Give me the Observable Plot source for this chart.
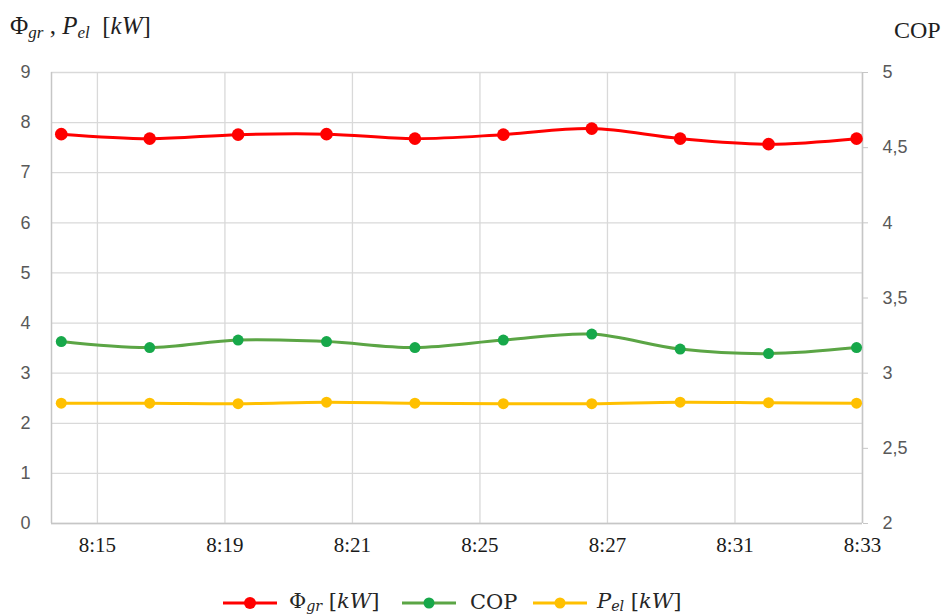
<!DOCTYPE html>
<html><head><meta charset="utf-8">
<script src="https://cdn.jsdelivr.net/npm/d3@7"></script>
<script src="https://cdn.jsdelivr.net/npm/@observablehq/plot@0.6"></script>
<style>
body{margin:0;background:#fff;}
#wrap{position:relative;width:947px;height:615px;overflow:hidden;background:#fff;}
#chart{position:absolute;left:0;top:0;}
.t{position:absolute;font-family:"Liberation Serif",serif;color:#1f1f1f;white-space:nowrap;line-height:1;}
.lg{font-family:"DejaVu Serif",serif;color:#262626;}
.t i{font-style:italic;}
.t sub{font-size:0.68em;font-style:italic;vertical-align:-0.22em;line-height:1;}
.sw{position:absolute;}
</style>
</head><body>
<div id="wrap">
  <div id="chart"></div>
  <div class="t" style="left:10px;top:13px;font-size:25px;">Φ<sub>gr</sub> , <i>P</i><sub>el</sub>&nbsp; [<i>kW</i>]</div>
  <div class="t" style="left:894px;top:18px;font-size:24px;">COP</div>
  <svg class="sw" style="left:223px;top:596px" width="54" height="14"><line x1="0" y1="7" x2="54" y2="7" stroke="#ff0000" stroke-width="3"/><circle cx="27" cy="7" r="6" fill="#ff0000"/></svg>
  <div class="t lg" style="left:289px;top:591px;font-size:21px;">Φ<sub>gr</sub> [<i>kW</i>]</div>
  <svg class="sw" style="left:402px;top:596px" width="54" height="14"><line x1="0" y1="7" x2="54" y2="7" stroke="#5ba545" stroke-width="3"/><circle cx="27" cy="7" r="5.5" fill="#17a84a"/></svg>
  <div class="t lg" style="left:470px;top:592px;font-size:21px;">COP</div>
  <svg class="sw" style="left:533px;top:596px" width="54" height="14"><line x1="0" y1="7" x2="54" y2="7" stroke="#ffc000" stroke-width="3"/><circle cx="27" cy="7" r="5.5" fill="#ffc000"/></svg>
  <div class="t lg" style="left:597px;top:591px;font-size:21px;"><i>P</i><sub>el</sub> [<i>kW</i>]</div>
</div>
<script>
// time of each reading, minutes after 8:00
const times = [14.15, 16.23, 18.31, 20.39, 22.47, 24.55, 26.63, 28.71, 30.79, 32.86];
const phiGr = [7.77, 7.68, 7.76, 7.77, 7.68, 7.76, 7.88, 7.68, 7.57, 7.68];
const cop   = [3.21, 3.17, 3.22, 3.21, 3.17, 3.22, 3.26, 3.16, 3.13, 3.17];
const pEl   = [2.40, 2.40, 2.39, 2.42, 2.40, 2.39, 2.39, 2.42, 2.41, 2.40];
const xTickValues = [15, 18, 21, 24, 27, 30, 33];
const xTickLabels = ["8:15", "8:19", "8:21", "8:25", "8:27", "8:31", "8:33"];
const yLeftTicks = [0, 1, 2, 3, 4, 5, 6, 7, 8, 9];
const copTicks = [2, 2.5, 3, 3.5, 4, 4.5, 5];
const xDomain = [13.92, 33];
const leftDomain = [0, 9];
const copDomain = [2, 5];

const toLeft = c => (c - copDomain[0]) / (copDomain[1] - copDomain[0]) * (leftDomain[1] - leftDomain[0]) + leftDomain[0];
const toCop = v => (v - leftDomain[0]) / (leftDomain[1] - leftDomain[0]) * (copDomain[1] - copDomain[0]) + copDomain[0];

const rows = times.map((t, i) => ({t, phi: phiGr[i], cop: toLeft(cop[i]), pel: pEl[i]}));
const grid = "#d9d9d9";
const axisLine = "#c6c6c6";
const curve = "catmull-rom";

const chart = Plot.plot({
  width: 947,
  height: 565,
  marginLeft: 51,
  marginRight: 85,
  marginTop: 72,
  marginBottom: 42,
  x: {type: "linear", domain: xDomain},
  y: {domain: leftDomain},
  style: {background: "transparent"},
  marks: [
    Plot.gridY(yLeftTicks, {stroke: grid, strokeOpacity: 1, strokeWidth: 1.3}),
    Plot.gridX(xTickValues, {stroke: grid, strokeOpacity: 1, strokeWidth: 1.3}),
    Plot.ruleX([xDomain[0]], {stroke: axisLine, strokeWidth: 1.5}),
    Plot.ruleX([xDomain[1]], {stroke: axisLine, strokeWidth: 1.5}),
    Plot.ruleY([leftDomain[0]], {stroke: axisLine, strokeWidth: 1.5}),
    Plot.axisY(yLeftTicks, {anchor: "left", tickSize: 0, tickPadding: 21, label: null,
      fill: "#595959", fontSize: 18, fontFamily: "Liberation Sans", tickFormat: d => String(d)}),
    Plot.axisY(copTicks.map(toLeft), {anchor: "right", tickSize: 5, tickPadding: 15, label: null,
      stroke: axisLine, fill: "#595959", fontSize: 18, fontFamily: "Liberation Sans",
      tickFormat: v => String(+toCop(v).toFixed(1)).replace(".", ",")}),
    Plot.axisX(xTickValues, {anchor: "bottom", tickSize: 0, tickPadding: 14, label: null,
      fill: "#1a1a1a", fontSize: 21, fontFamily: "Liberation Serif",
      tickFormat: d => xTickLabels[xTickValues.indexOf(d)]}),
    Plot.line(rows, {x: "t", y: "pel", stroke: "#ffc000", strokeWidth: 3, curve}),
    Plot.dot(rows, {x: "t", y: "pel", r: 5.5, fill: "#ffc000"}),
    Plot.line(rows, {x: "t", y: "cop", stroke: "#5ba545", strokeWidth: 3, curve}),
    Plot.dot(rows, {x: "t", y: "cop", r: 5.5, fill: "#17a84a"}),
    Plot.line(rows, {x: "t", y: "phi", stroke: "#ff0000", strokeWidth: 3, curve}),
    Plot.dot(rows, {x: "t", y: "phi", r: 6.3, fill: "#ff0000"})
  ]
});
document.getElementById("chart").appendChild(chart);
</script>
</body></html>
